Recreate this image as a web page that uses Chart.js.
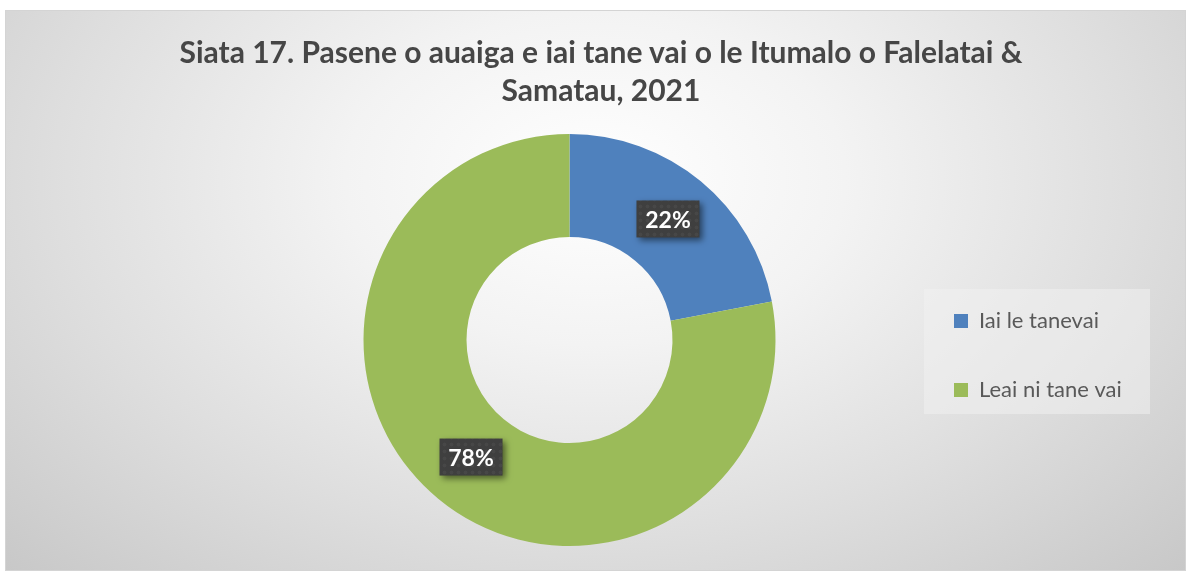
<!DOCTYPE html>
<html>
<head>
<meta charset="utf-8">
<script src="https://cdn.jsdelivr.net/npm/chart.js@4"></script>
<style>
  body { margin: 0; background: #ffffff; }
  #frame {
    position: absolute; left: 5px; top: 10px; width: 1179px; height: 559px;
    border: 1px solid #d4d4d4;
    background: radial-gradient(ellipse farthest-corner at 50% 30%, #ffffff 0%, #f3f3f3 30%, #dedede 65%, #c8c8c8 100%);
  }
  #title {
    position: absolute; left: 0; top: 32px; width: 1191px; padding-left: 11px; box-sizing: border-box;
    text-align: center; font-family: Lato, sans-serif; font-weight: bold; font-size: 30px; line-height: 38px;
    color: #464646;
  }
  #chart { position: absolute; left: 0; top: 0; }
</style>
</head>
<body>
<div id="frame"></div>
<canvas id="chart" width="1191" height="575"></canvas>
<div id="title">Siata 17. Pasene o auaiga e iai tane vai o le Itumalo o Falelatai &amp;<br>Samatau, 2021</div>
<script>
var categories = ["Iai le tanevai", "Leai ni tane vai"];
var percentValues = [22, 78];
var sliceColors = ["#4F81BD", "#9BBB59"];

var legendFont = { family: "Lato", size: 22 };
var legendPad = 47;
var legendBox = 14;

// work out right padding so the legend starts where the reference has it
var mctx = document.createElement("canvas").getContext("2d");
mctx.font = legendFont.size + "px " + legendFont.family;
var widest = 0;
categories.forEach(function (c) { widest = Math.max(widest, mctx.measureText(c).width); });
var legendWidth = legendPad + legendBox + legendFont.size / 2 + widest + 10;
var legendLeft = 907;
var rightPad = 1191 - legendLeft - legendWidth;

// dotted texture for the label boxes
var patCanvas = document.createElement("canvas");
patCanvas.width = 7; patCanvas.height = 7;
var pctx = patCanvas.getContext("2d");
pctx.fillStyle = "#3f3f3f";
pctx.fillRect(0, 0, 7, 7);
pctx.fillStyle = "rgba(255,255,255,0.045)";
pctx.beginPath(); pctx.arc(3.5, 3.5, 2, 0, Math.PI * 2); pctx.fill();

var legendBackground = {
    id: "legendBackground",
    beforeDraw: function (chart) {
        var boxes = chart.legend.legendHitBoxes;
        if (!boxes || !boxes.length) return;
        var top = Infinity, left = Infinity;
        boxes.forEach(function (b) {
            top = Math.min(top, b.top);
            left = Math.min(left, b.left);
        });
        var ctx = chart.ctx;
        ctx.save();
        ctx.fillStyle = "rgba(240,240,240,0.55)";
        ctx.fillRect(left - 30, top - 21, 226, 125);
        ctx.restore();
    }
};

var percentLabels = {
    id: "percentLabels",
    afterDatasetsDraw: function (chart) {
        var ctx = chart.ctx;
        var meta = chart.getDatasetMeta(0);
        var data = chart.data.datasets[0].data;
        var total = data.reduce(function (a, b) { return a + b; }, 0);
        var pattern = ctx.createPattern(patCanvas, "repeat");
        meta.data.forEach(function (arc, i) {
            var p = arc.tooltipPosition();
            var txt = Math.round(data[i] / total * 100) + "%";
            ctx.save();
            ctx.font = "bold 23px Lato";
            var w = 63;
            var h = 37;
            ctx.shadowColor = "rgba(0,0,0,0.5)";
            ctx.shadowBlur = 6;
            ctx.shadowOffsetX = 3;
            ctx.shadowOffsetY = 3;
            ctx.fillStyle = pattern;
            ctx.fillRect(p.x - w / 2, p.y - h / 2 - 2, w, h);
            ctx.shadowColor = "transparent";
            ctx.fillStyle = "#ffffff";
            ctx.textAlign = "center";
            ctx.textBaseline = "middle";
            ctx.fillText(txt, p.x, p.y);
            ctx.restore();
        });
    }
};

var chart = new Chart(document.getElementById("chart"), {
    type: "doughnut",
    data: {
        labels: categories,
        datasets: [{
            data: percentValues,
            backgroundColor: sliceColors,
            borderWidth: 0
        }]
    },
    options: {
        responsive: false,
        animation: false,
        cutout: "50%",
        layout: { padding: { top: 134, bottom: 29, left: 232, right: rightPad } },
        plugins: {
            tooltip: { enabled: false },
            legend: {
                position: "right",
                title: { display: true, text: "", font: { size: 25, lineHeight: 1.24 } },
                labels: {
                    font: legendFont,
                    color: "#595959",
                    boxWidth: legendBox,
                    boxHeight: legendBox,
                    padding: legendPad
                }
            }
        }
    },
    plugins: [legendBackground, percentLabels]
});
</script>
</body>
</html>
